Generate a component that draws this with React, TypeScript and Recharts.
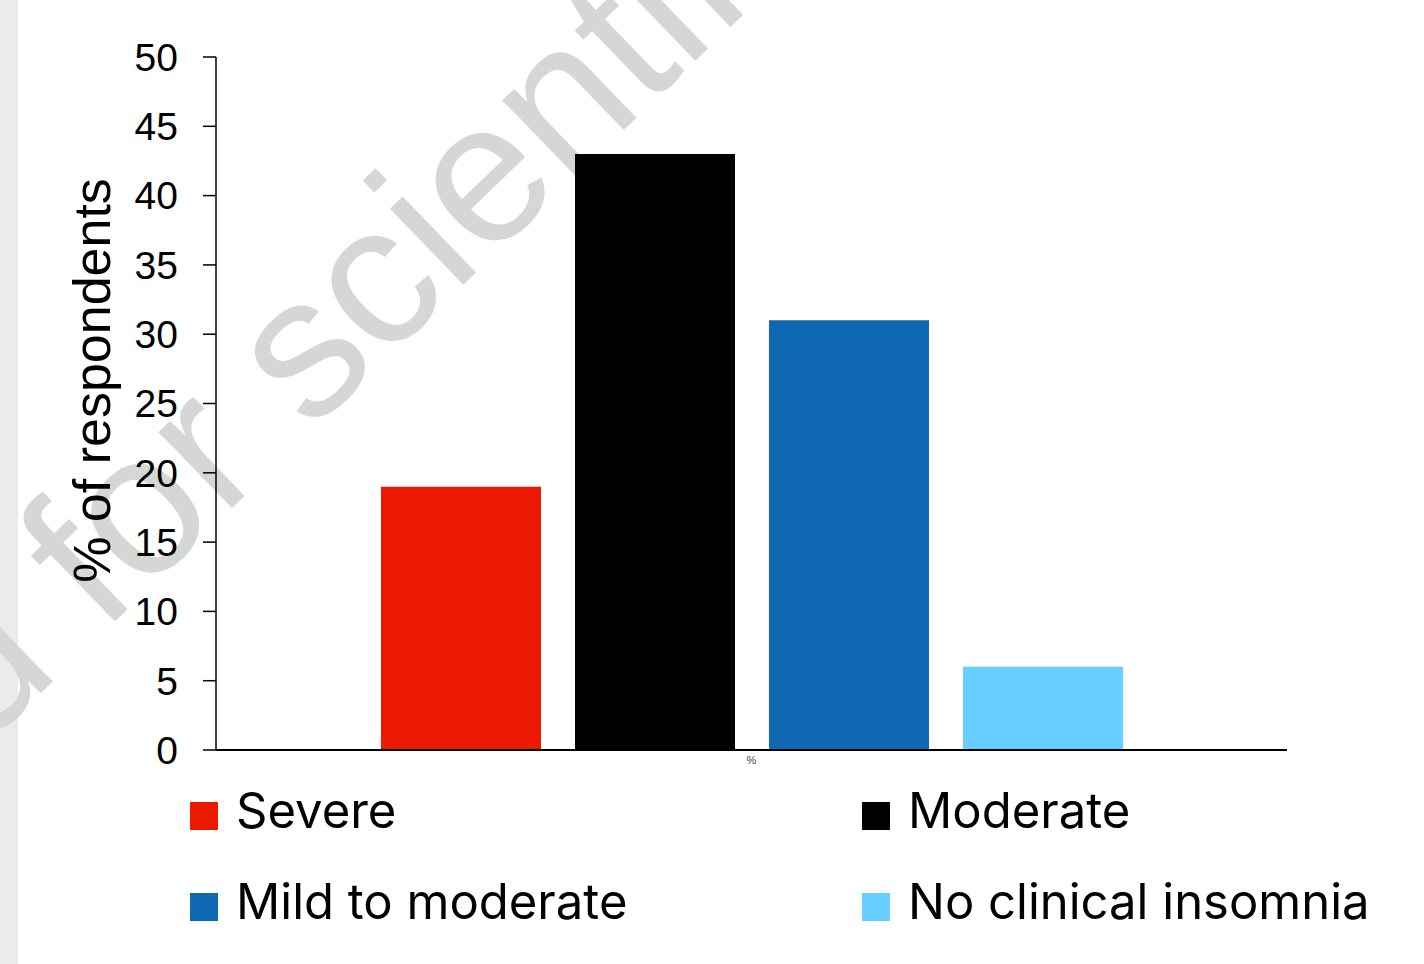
import React from 'react';
import { BarChart, Bar, XAxis, YAxis, Legend, Label } from 'recharts';

const categories = ['%'];
const seriesKeys = ['severe', 'moderate', 'mild', 'none'];
const seriesNames = ['Severe', 'Moderate', 'Mild to moderate', 'No clinical insomnia'];
const seriesColors = ['#EB1A00', '#000000', '#0E69B2', '#66CFFF'];
const seriesValues = [19, 43, 31, 6];
const yTicks = [0, 5, 10, 15, 20, 25, 30, 35, 40, 45, 50];
const yAxisTitle = '% of respondents';
const watermarkLeft = 'Licensed for ';
const watermarkRight = 'scientific use only';

const data = categories.map((name) => {
  const row: Record<string, string | number> = { name };
  seriesKeys.forEach((k, i) => {
    row[k] = seriesValues[i];
  });
  return row;
});

const LegendContent = () => (
  <div style={{ position: 'relative', width: 1240, height: 160 }}>
    {seriesNames.map((n, i) => {
      const col = i % 2;
      const row = Math.floor(i / 2);
      return (
        <div
          key={n}
          style={{
            position: 'absolute',
            left: 10 + col * 672,
            top: 22 + row * 91,
            display: 'flex',
            alignItems: 'center',
            height: 28,
            whiteSpace: 'nowrap',
          }}
        >
          <div style={{ width: 28, height: 28, background: seriesColors[i], marginRight: 18 }} />
          <span
            style={{
              fontFamily: 'Inter, sans-serif',
              fontSize: 49,
              lineHeight: '28px',
              color: '#000',
              position: 'relative',
              top: -5,
            }}
          >
            {n}
          </span>
        </div>
      );
    })}
  </div>
);

const YTitle = (props: any) => {
  const vb = props.viewBox || { x: 0, y: 57, width: 216, height: 693 };
  const cx = vb.x + 110;
  const cy = vb.y + vb.height / 2 - 23;
  return (
    <text
      x={cx}
      y={cy}
      transform={`rotate(-90 ${cx} ${cy})`}
      textAnchor="middle"
      fontFamily="'Liberation Sans', Arial, sans-serif"
      fontSize={52}
      fill="#000"
    >
      {yAxisTitle}
    </text>
  );
};

export default function App() {
  const wmX = 310;
  const wmY = 433;
  return (
    <div style={{ position: 'absolute', left: 0, top: 0, width: 1424, height: 964, background: '#fff', overflow: 'hidden' }}>
      <div style={{ position: 'absolute', left: 0, top: 0, width: 18, height: 964, background: '#ebebeb' }} />
      <svg width={1424} height={964} style={{ position: 'absolute', left: 0, top: 0 }}>
        <g transform={`rotate(-44 ${wmX} ${wmY})`} fontFamily="'Liberation Sans', Arial, sans-serif" fontSize={200} fill="#d5d7d6">
          <text x={wmX} y={wmY} textAnchor="end" style={{ whiteSpace: 'pre' }}>
            {watermarkLeft}
          </text>
          <text x={wmX} y={wmY} textAnchor="start">
            {watermarkRight}
          </text>
        </g>
      </svg>
      <div style={{ position: 'absolute', left: 0, top: 0 }}>
        <BarChart
          width={1424}
          height={964}
          data={data}
          margin={{ top: 57, right: 137, left: 0, bottom: 184 }}
          barSize={160}
          barGap={34}
        >
          <XAxis
            dataKey="name"
            height={30}
            tickLine={false}
            tickSize={0}
            tickMargin={6}
            axisLine={{ stroke: '#000', strokeWidth: 2 }}
            tick={{ fontSize: 11, fill: '#444', fontFamily: "'Liberation Sans', Arial, sans-serif" }}
          />
          <YAxis
            width={216}
            domain={[0, 50]}
            ticks={yTicks}
            interval={0}
            tickSize={13}
            tickMargin={25}
            axisLine={{ stroke: '#000', strokeWidth: 1.5 }}
            tickLine={{ stroke: '#000', strokeWidth: 1.5 }}
            tick={{ fontSize: 39, fill: '#000', fontFamily: "'Liberation Sans', Arial, sans-serif" }}
          >
            <Label content={<YTitle />} />
          </YAxis>
          <Legend
            layout="horizontal"
            verticalAlign="middle"
            align="center"
            wrapperStyle={{ left: 180, top: 780, width: 1240, height: 160 }}
            content={<LegendContent />}
          />
          {seriesKeys.map((k, i) => (
            <Bar key={k} dataKey={k} name={seriesNames[i]} fill={seriesColors[i]} isAnimationActive={false} />
          ))}
        </BarChart>
      </div>
    </div>
  );
}
